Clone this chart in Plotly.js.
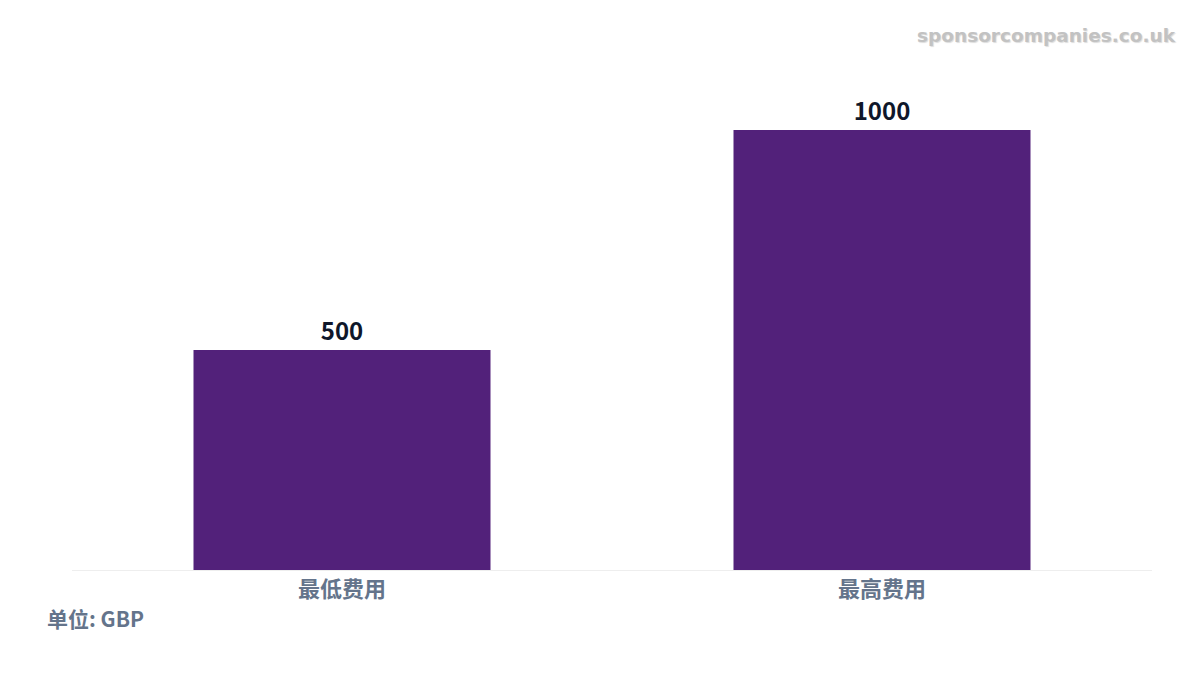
<!DOCTYPE html>
<html>
<head>
<meta charset="utf-8">
<script src="https://cdn.plot.ly/plotly-3.0.1.min.js"></script>
<style>
  html, body { margin: 0; padding: 0; background: #ffffff; }
  #chart { width: 1200px; height: 675px; }
</style>
</head>
<body>
<div id="chart"></div>
<script>
  var categories = ['最低费用', '最高费用'];
  var values = [500, 1000];
  var unitLabel = '单位: GBP';
  var watermark = 'sponsorcompanies.co.uk';

  var cjk = '"Noto Sans CJK SC", "Noto Sans", sans-serif';

  var trace = {
    type: 'bar',
    x: categories,
    y: values,
    marker: { color: '#52217a' },
    text: values.map(String),
    textposition: 'outside',
    cliponaxis: false,
    textfont: { family: cjk, size: 24, color: '#0f172a', weight: 'bold' },
    hoverinfo: 'x+y'
  };

  var layout = {
    width: 1200,
    height: 675,
    paper_bgcolor: '#ffffff',
    plot_bgcolor: '#ffffff',
    margin: { t: 86, r: 48, b: 105, l: 72 },
    bargap: 0.45,
    showlegend: false,
    font: { family: cjk },
    xaxis: {
      showgrid: false,
      showline: true,
      linecolor: '#eeeeee',
      linewidth: 1,
      ticks: '',
      tickfont: { family: cjk, size: 22, color: '#64748b', weight: 'bold' }
    },
    yaxis: {
      range: [0, 1100],
      showgrid: false,
      zeroline: false,
      showticklabels: false,
      ticks: ''
    },
    annotations: [
      {
        text: unitLabel,
        xref: 'paper', yref: 'paper',
        x: -0.025, y: -0.1,
        xanchor: 'left', yanchor: 'middle',
        showarrow: false,
        font: { family: cjk, size: 21, color: '#64748b', weight: 'bold' }
      },
      {
        text: watermark,
        xref: 'paper', yref: 'paper',
        x: 1.024, y: 1.105,
        xanchor: 'right', yanchor: 'middle',
        showarrow: false,
        font: { family: '"DejaVu Sans", sans-serif', size: 18.5, color: '#c2c2c2', weight: 'bold', shadow: '1px 1px 1px #dddddd' }
      }
    ]
  };

  Plotly.newPlot('chart', [trace], layout, { displayModeBar: false, staticPlot: true });
</script>
</body>
</html>
